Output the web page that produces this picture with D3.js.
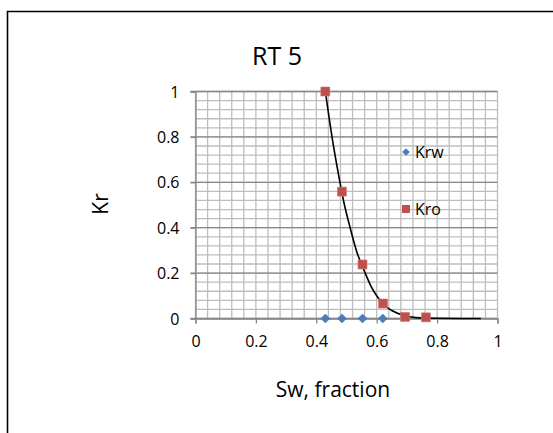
<!DOCTYPE html>
<html><head><meta charset="utf-8">
<script src="https://cdn.jsdelivr.net/npm/d3@7"></script>
<style>body{margin:0;background:#fff}svg{display:block}text{font-family:"Open Sans",sans-serif}</style>
</head><body>
<svg id="c" width="553" height="433"></svg>
<script>
const krwSw = [0.43, 0.485, 0.553, 0.62];
const krwKr = [0, 0, 0, 0];
const kroSw = [0.43, 0.485, 0.553, 0.621, 0.694, 0.763];
const kroKr = [1.0, 0.559, 0.238, 0.066, 0.007, 0.005];
const trendSw = [0.43, 0.452, 0.47, 0.49, 0.512, 0.535, 0.562, 0.58, 0.60, 0.62, 0.65, 0.69, 0.73, 0.80, 0.945];
const trendKr = [1.0, 0.80, 0.66, 0.52, 0.40, 0.29, 0.20, 0.145, 0.10, 0.065, 0.035, 0.013, 0.004, 0.001, 0];
const xTicks = [0, 0.2, 0.4, 0.6, 0.8, 1];
const yTicks = [0, 0.2, 0.4, 0.6, 0.8, 1];
const title = "RT 5", xTitle = "Sw, fraction", yTitle = "Kr";

const svg = d3.select("#c");
const x = d3.scaleLinear().domain([0, 1]).range([195.5, 497.5]);
const y = d3.scaleLinear().domain([0, 1]).range([318.5, 91.5]);

// frame
svg.append("path").attr("d", "M7.5,440V11.5H560").attr("fill", "none").attr("stroke", "#000").attr("stroke-width", 1.6);

// minor grid
const minor = d3.range(0, 1.0001, 0.04);
const g = svg.append("g");
g.selectAll(".vx").data(minor).join("line")
  .attr("x1", d => x(d)).attr("x2", d => x(d))
  .attr("y1", y(0)).attr("y2", y(1)).attr("stroke", "#bdbdbd").attr("stroke-width", 1.3);
g.selectAll(".hy").data(minor).join("line")
  .attr("y1", d => y(d)).attr("y2", d => y(d))
  .attr("x1", x(0)).attr("x2", x(1)).attr("stroke", "#bdbdbd").attr("stroke-width", 1.3);
g.selectAll(".my").data(yTicks).join("line")
  .attr("y1", d => y(d)).attr("y2", d => y(d))
  .attr("x1", x(0) - 5).attr("x2", x(1)).attr("stroke", "#888").attr("stroke-width", 1.3);

// axes
const xa = svg.append("g").attr("transform", `translate(0,${y(0)})`)
  .call(d3.axisBottom(x).tickValues(xTicks).tickFormat(d3.format("")).tickSize(5).tickPadding(13));
const ya = svg.append("g").attr("transform", `translate(${x(0)},0)`)
  .call(d3.axisLeft(y).tickValues(yTicks).tickFormat(d3.format("")).tickSize(5).tickPadding(11));
[xa, ya].forEach(a => {
  a.select(".domain").attr("stroke", "#868686").attr("stroke-width", 1.3);
  a.selectAll(".tick line").attr("stroke", "#868686").attr("stroke-width", 1.3);
  a.selectAll("text").attr("font-size", 16).attr("fill", "#000").style("font-family", "'Open Sans', sans-serif");
});
ya.selectAll("text").attr("dy", "0.35em");
xa.selectAll("text").attr("dy", "0.65em");

// trend line
const pts = trendSw.map((s, i) => [s, trendKr[i]]);
svg.append("path").datum(pts)
  .attr("d", d3.line().x(d => x(d[0])).y(d => y(d[1])).curve(d3.curveMonotoneX))
  .attr("fill", "none").attr("stroke", "#000").attr("stroke-width", 1.6);

// Krw diamonds
const diamond = "M0,-4.5L4.5,0L0,4.5L-4.5,0Z";
svg.selectAll(".krw").data(krwSw.map((s, i) => [s, krwKr[i]])).join("path")
  .attr("d", diamond).attr("transform", d => `translate(${x(d[0])},${y(d[1])})`)
  .attr("fill", "#4a7ebb").attr("stroke", "#3f6fa8").attr("stroke-width", 0.5);
// Kro squares
svg.selectAll(".kro").data(kroSw.map((s, i) => [s, kroKr[i]])).join("rect")
  .attr("x", d => x(d[0]) - 4.5).attr("y", d => y(d[1]) - 4.5).attr("width", 9).attr("height", 9)
  .attr("fill", "#c0504d").attr("stroke", "#d07a78").attr("stroke-width", 0.6);

// legend
const lg = svg.append("g");
lg.append("path").attr("d", "M0,-3.8L3.8,0L0,3.8L-3.8,0Z").attr("transform", "translate(406,152)").attr("fill", "#4a7ebb");
lg.append("text").attr("x", 415).attr("y", 158).attr("font-size", 16).text("Krw");
lg.append("rect").attr("x", 402).attr("y", 205).attr("width", 8).attr("height", 8).attr("fill", "#c0504d");
lg.append("text").attr("x", 415).attr("y", 215).attr("font-size", 16).text("Kro");

// titles
svg.append("text").attr("x", 277).attr("y", 65).attr("text-anchor", "middle").attr("font-size", 25).text(title);
svg.append("text").attr("x", 333).attr("y", 397).attr("text-anchor", "middle").attr("font-size", 21).text(xTitle);
svg.append("text").attr("transform", "translate(108,204) rotate(-90)").attr("text-anchor", "middle").attr("font-size", 21).text(yTitle);
</script>
</body></html>
